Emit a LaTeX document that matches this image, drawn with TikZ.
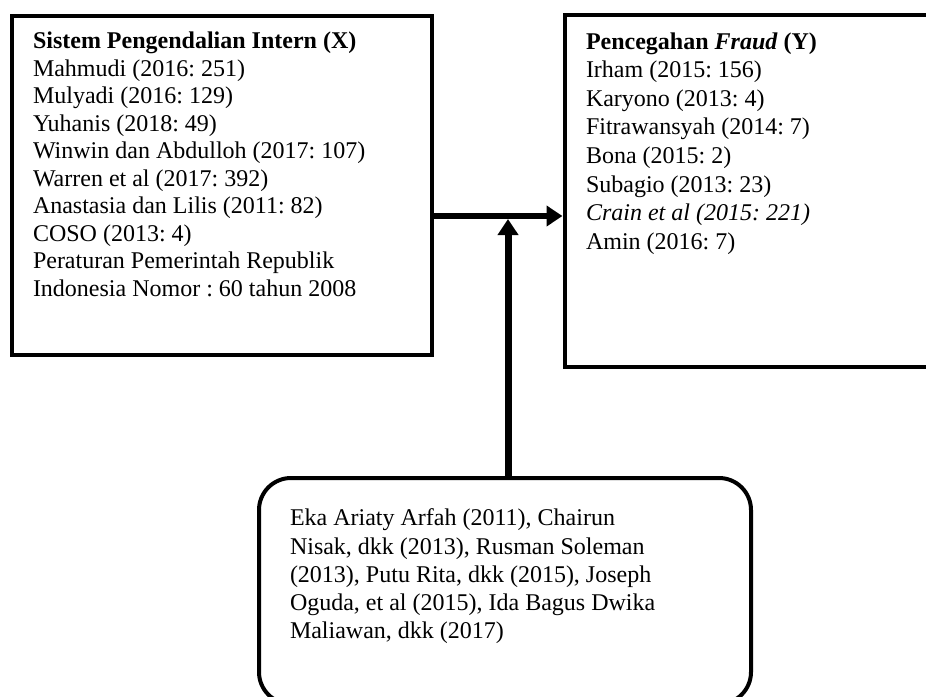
\documentclass[tikz,border=0pt]{standalone}
\usepackage{fontspec}
\setmainfont{Liberation Serif}
\usetikzlibrary{arrows.meta}
\tikzset{
  kotak/.style={draw, line width=2pt, anchor=north west, inner xsep=10.75pt},
  panah/.style={line width=3pt, -{Triangle[length=8pt,width=10pt]}}
}
\frenchspacing

\begin{document}
\begin{tikzpicture}[x=0.5pt, y=-0.5pt]
        \newcommand{\isiKotak}[4]{\parbox[c][#2][t]{#1}{\fontsize{12}{#3}\selectfont\raggedright #4}}
        \useasboundingbox (0,0) rectangle (926,696);
        \clip (0,0) rectangle (926,696);
        % variabel X
        \node [kotak, inner ysep=8.3pt, minimum width=210.25pt, minimum height=169.5pt] (sistem) at (9.5,13.5)
          {\isiKotak{188.75pt}{152.9pt}{13.75pt}{\textbf{Sistem Pengendalian Intern (X)}\\
            Mahmudi (2016: 251)\\
            Mulyadi (2016: 129)\\
            Yuhanis (2018: 49)\\
            Winwin dan Abdulloh (2017: 107)\\
            Warren et al (2017: 392)\\
            Anastasia dan Lilis (2011: 82)\\
            COSO (2013: 4)\\
            Peraturan Pemerintah Republik\\
            Indonesia Nomor : 60 tahun 2008}};
        % variabel Y
        \node [kotak, inner ysep=9pt, minimum width=190.75pt, minimum height=176pt] (pencegahan) at (562.5,12.5)
          {\isiKotak{169.25pt}{158pt}{14.3pt}{\textbf{Pencegahan \textit{Fraud} (Y)}\\
            Irham (2015: 156)\\
            Karyono (2013: 4)\\
            Fitrawansyah (2014: 7)\\
            Bona (2015: 2)\\
            Subagio (2013: 23)\\
            \textit{Crain et al (2015: 221)}\\
            Amin (2016: 7)}};
        % penelitian terdahulu
        \node [kotak, rounded corners=16pt, inner xsep=15.5pt, inner ysep=15.4pt, minimum width=246pt, minimum height=113pt] (penelitian) at (257,476)
          {\isiKotak{215pt}{82.2pt}{14.15pt}{Eka Ariaty Arfah (2011), Chairun\\
            Nisak, dkk (2013), Rusman Soleman\\
            (2013), Putu Rita, dkk (2015), Joseph\\
            Oguda, et al (2015), Ida Bagus Dwika\\
            Maliawan, dkk (2017)}};
        % arrows
        \coordinate (temu) at (508,216);
        \draw [panah] (sistem.east |- temu) -- (pencegahan.west |- temu);
        \draw [panah, line width=3.5pt, shorten >=1.5pt] (temu |- penelitian.north) -- (temu);
\end{tikzpicture}
\end{document}
